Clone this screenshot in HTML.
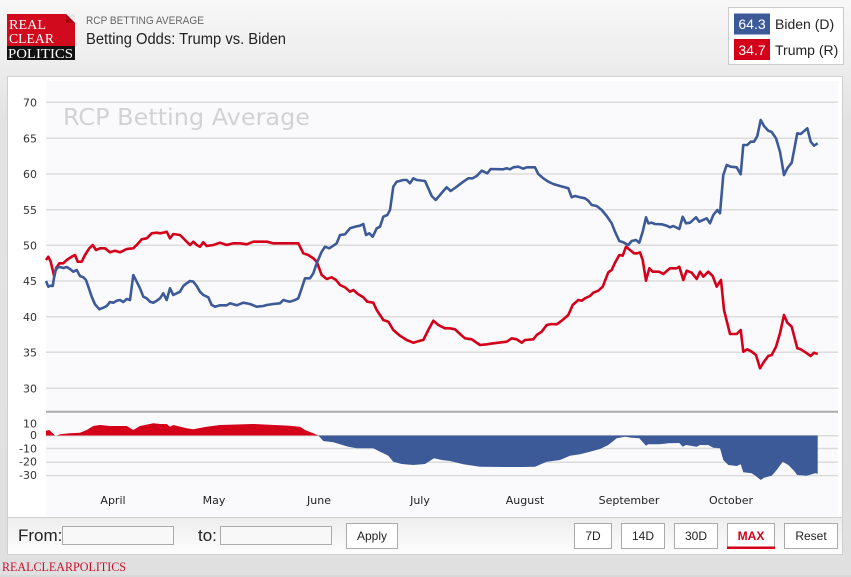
<!DOCTYPE html>
<html><head><meta charset="utf-8"><style>
html,body{margin:0;padding:0}
body{width:851px;height:577px;overflow:hidden;position:relative;background:linear-gradient(#f7f7f7 0px,#ececec 70px,#e2e2e2 120px,#e0e0e0 577px);font-family:"Liberation Sans",Arial,sans-serif}
svg{position:absolute;left:0;top:0}
</style></head><body>
<svg width="851" height="577" viewBox="0 0 851 577" xmlns="http://www.w3.org/2000/svg">
<defs>
<linearGradient id="bar" x1="0" y1="0" x2="0" y2="1"><stop offset="0" stop-color="#ededed"/><stop offset="1" stop-color="#fdfdfd"/></linearGradient>
</defs>
<!-- logo -->
<rect x="7" y="14" width="68" height="32" fill="#d20a1e"/>
<rect x="7" y="46" width="68" height="14" fill="#111"/>
<polygon points="66,14 75,14 75,23" fill="#e9e9e9"/>
<polygon points="66,14 75,23 66,23" fill="#a8000f"/>
<text x="9" y="29" font-family="'Liberation Serif',serif" font-size="14" fill="#fff" textLength="37" lengthAdjust="spacingAndGlyphs">REAL</text>
<text x="9" y="43" font-family="'Liberation Serif',serif" font-size="14" fill="#fff" textLength="45" lengthAdjust="spacingAndGlyphs">CLEAR</text>
<text x="8" y="58" font-family="'Liberation Serif',serif" font-size="14" fill="#fff" textLength="65" lengthAdjust="spacingAndGlyphs">POLITICS</text>
<!-- header text -->
<text x="86" y="24" font-size="11" fill="#666" textLength="118" lengthAdjust="spacingAndGlyphs">RCP BETTING AVERAGE</text>
<text x="86" y="44" font-size="15.5" fill="#222" textLength="200" lengthAdjust="spacingAndGlyphs">Betting Odds: Trump vs. Biden</text>
<!-- legend -->
<rect x="728.5" y="7.5" width="115" height="57" fill="#fff" stroke="#ccc"/>
<rect x="734" y="13.5" width="36" height="21" fill="#3d5a98"/>
<rect x="734" y="39" width="36" height="21" fill="#d4001a"/>
<text x="752" y="29" font-size="14" fill="#fff" text-anchor="middle">64.3</text>
<text x="752" y="55" font-size="14" fill="#fff" text-anchor="middle">34.7</text>
<text x="775" y="29" font-size="14" fill="#222">Biden (D)</text>
<text x="775" y="55" font-size="14" fill="#222">Trump (R)</text>
<!-- panel -->
<rect x="7.5" y="76.5" width="835" height="478" fill="#fff" stroke="#cfcfcf"/>
<rect x="46" y="81" width="792" height="436" fill="#fafafd"/>
<!-- controls bar -->
<rect x="8" y="517" width="834" height="37" fill="url(#bar)"/>
<line x1="8" y1="517.5" x2="842" y2="517.5" stroke="#d0d0d0"/>
<!-- gridlines main -->
<g stroke="#dcdcdc" stroke-width="1.5">
<line x1="46" y1="102.3" x2="838" y2="102.3"/>
<line x1="46" y1="138.3" x2="838" y2="138.3"/>
<line x1="46" y1="174" x2="838" y2="174"/>
<line x1="46" y1="209.7" x2="838" y2="209.7"/>
<line x1="46" y1="245.3" x2="838" y2="245.3"/>
<line x1="46" y1="281" x2="838" y2="281"/>
<line x1="46" y1="316.7" x2="838" y2="316.7"/>
<line x1="46" y1="352.3" x2="838" y2="352.3"/>
<line x1="46" y1="388.3" x2="838" y2="388.3"/>
<line x1="46" y1="435.7" x2="838" y2="435.7"/>
<line x1="46" y1="448.5" x2="838" y2="448.5"/>
<line x1="46" y1="462.2" x2="838" y2="462.2"/>
<line x1="46" y1="475.6" x2="838" y2="475.6"/>
</g>
<line x1="46" y1="411.7" x2="838" y2="411.7" stroke="#ababab" stroke-width="2"/>
<!-- watermark -->
<text x="63" y="125" font-family="'DejaVu Sans',Verdana,sans-serif" font-size="23" fill="#d2d2d2" textLength="247" lengthAdjust="spacingAndGlyphs">RCP Betting Average</text>
<!-- y labels -->
<g font-family="'DejaVu Sans',Verdana,sans-serif" font-size="11" fill="#333" text-anchor="end">
<text x="37" y="106.5">70</text>
<text x="37" y="142.5">65</text>
<text x="37" y="178">60</text>
<text x="37" y="214">55</text>
<text x="37" y="249.5">50</text>
<text x="37" y="285">45</text>
<text x="37" y="321">40</text>
<text x="37" y="356.5">35</text>
<text x="37" y="392.5">30</text>
<text x="37" y="427.5">10</text>
<text x="37" y="439">0</text>
<text x="37" y="452.5">-10</text>
<text x="37" y="465.5">-20</text>
<text x="37" y="479">-30</text>
</g>
<!-- month labels -->
<g font-family="'DejaVu Sans',Verdana,sans-serif" font-size="11" fill="#222" text-anchor="middle">
<text x="113" y="504">April</text>
<text x="214" y="504">May</text>
<text x="319" y="504">June</text>
<text x="420" y="504">July</text>
<text x="525" y="504">August</text>
<text x="629" y="504">September</text>
<text x="731" y="504">October</text>
</g>
<!-- spread areas -->
<path fill="#d4001a" d="M46,435.5 L46,430.7 49.3,430 52.7,433.3 55,435.5 57,435.5 60,434.3 70,433.3 80,432.7 86.7,430 93.3,426 100,425 110,426 126.7,426 133.3,430 140,426 153.3,423.3 160,424 166.7,424 170,426.7 173.3,425 186.7,428.3 193.3,429.3 206.7,426.7 220,425 253.3,424 290,425.7 300,426.7 305,430 313.3,433.3 318.3,435.5 Z"/>
<path fill="#3d5a98" d="M318.3,435.5 L323.3,441 333.3,442.3 340,444.3 348.3,446.7 356.7,448.3 373.3,448.3 380,451.7 388.3,455.7 393.3,461.7 401.7,464 413.3,465 425,464 434,458.3 441.7,460 450,461 463.3,464.3 480,466.7 503.3,467 523.3,467 535,466.7 546.7,461.7 560,460 570,455.7 580,454.3 590,451.7 600,449 608.3,445 616.7,438.3 625,436.7 631.7,437.7 639.3,438.3 646,445.7 648.3,444.3 660,444.3 668.3,443.3 679.3,443 682.7,446.7 686,445 696.7,446.7 700,445 708.3,445 713.3,447.7 720,448.3 723.3,460 728.3,465 736.7,466 740.7,464.3 743.3,472.3 751.7,473.3 756.7,476.7 760.7,480 764,477.7 771.7,475.7 776.7,470 782.7,461.7 788.3,465 793.3,470 797.3,475 806.7,475.7 811.7,474.3 815,473.3 817.7,473.7 817.7,435.5 Z"/>
<!-- lines -->
<polyline fill="none" stroke="#d4001a" stroke-width="2.6" stroke-linejoin="round" points="46,260 48.3,256.7 50.7,261.7 52.7,270 54.3,276.7 56,268.3 59.3,263.3 63.3,263.3 66.7,260 71.7,256.7 75,255 77.7,261.7 81.7,261.7 85,255 89.3,248.3 92.7,245 96,250 100,248.3 105,248.3 110,252.3 115,250.7 120,252.3 126.7,249 133.3,248.3 138.3,243.3 141.7,239.3 146.7,238.3 151.7,233.3 156.7,232.7 160,233.3 163.3,232.7 166.7,231.7 170,238.3 173.3,234 180,235 185,240 190,245 193.3,241.7 196.7,245 200,246.7 203.3,242.3 206.7,246 213.3,245 220,242.7 226.7,245 233.3,243.3 240,243.3 246.7,244.3 253.3,241.7 266.7,241.7 273.3,243.3 280,243.3 290,243.3 298.3,243.3 303.3,253.3 308.3,255 313.3,258.3 316.7,261.7 321.7,275 326.7,279 331.7,277.3 336,280 340,285 345,287.3 350,291.7 353.3,290 358.3,294.3 363.3,297.3 367.3,301.7 373.3,302.7 376.7,310 383.3,320 388.3,321.7 393.3,330 400,335.7 406.7,340 413.3,342.7 420,340.7 423.3,340 428.3,330 433.3,320.7 438.3,325 445,328.3 450,328.3 455,329.3 460,334 465,338.3 471.7,339.3 480,345 486.7,344.3 493.3,343.3 506.7,341.7 511.7,338.3 516.7,339.3 521.7,342.7 525,340 533.3,339.3 536.7,335 541.7,331.7 546.7,325 551.7,324 556.7,324.3 561.7,320.7 568.3,315 572.7,305 578.3,300 581.7,300.7 585,298.3 590,296 593.3,292.7 598.3,290.7 602.7,286.7 608.3,272.3 611.7,270 615,262.7 619.3,255 622.7,255.7 626,246.7 630,250 634,253.3 637.3,253.3 640,252.3 642.7,260 646,280.7 649.3,268.3 652.7,271.7 659.3,271.7 663.3,274 670,268.3 676.7,268.3 679.3,266.7 683.3,280 686.7,270.7 691.7,272.7 696.7,279 700,271.7 703.3,276.7 708.3,271.7 712.7,276 716.7,286.7 721,280 724,310 730,334 736.7,334 740.7,330 743.3,351.7 747.3,349.3 751.7,351.7 756,355 760,368.3 764,361.7 768.3,356 771.7,355 776,346.7 780,333.3 784,315 787.3,322.7 791.7,326.7 797.3,348.3 800.7,349.3 806,352.7 810.7,356 814,352.7 817.7,354"/>
<polyline fill="none" stroke="#3d5a98" stroke-width="2.6" stroke-linejoin="round" points="46,281 48.3,286.7 50.7,285.7 52.7,286 55,271.7 57.3,267.7 60,267 63.3,268 66.7,267 70,269 73.3,271.7 76.7,270 80,276 83.3,277.3 86,280 88.3,286.7 91.7,296.7 95,304.3 99.3,309.3 103.3,307.7 106.7,306 110,302 113.3,302.7 116.7,300.7 120,300 123.3,302 126.7,299 130,300 133.3,275 136.7,281.7 140,288.3 143.3,296.7 146.7,298.3 150,301.7 153.3,302.7 156.7,300.7 160,298.3 163.3,293.3 166.7,300 170,288.3 173.3,295 176.7,293.3 180,291.7 183.3,286 186.7,283.3 190,281 193.3,281.7 196.7,286 200,291.7 203.3,295 208.3,297.3 211.7,305 215,306.7 220,305.3 226.7,305.3 230,303.3 236.7,305.3 243.3,302.7 250,304 256.7,306.7 263.3,306 266.7,305 273.3,304 280,303.3 283.3,300 286.7,301 290,301.7 295,300 298.3,298.3 301.7,288.3 305,278.3 310,278.3 313.3,273.3 316.7,263.3 321.7,251.7 325,246.7 329.3,248.3 333.3,245.7 336.7,243.3 340,235 345,234.3 350,228.3 355,226.7 360,225.7 363.3,224 366,235 369.3,233.3 372.7,236.7 376.7,228.3 380,226.7 383.3,216.7 387.3,215 390,210 393.3,186.7 396.7,181.7 403.3,180 406.7,180 410,183.3 413.3,178.3 416.7,180 425,181 428.3,188.3 431.7,196 435.7,200 440,195 443.3,191 446.7,187.3 450.7,191 456.7,186.7 463.3,181.7 468.3,178.3 472.7,178.3 476.7,176 481.7,170.7 487.3,173.3 490.7,169 503.3,169.3 506.7,168.3 510,169.3 513.3,167.3 518.3,166.7 523.3,168.7 526.7,167.3 535,167.3 538.3,174 543.3,178.3 548.3,181.7 553.3,184 560,186 568.3,188.3 571.7,197.3 575,196 580,197.3 585,198.3 588.3,200.7 591.7,205 596.7,206 601.7,210 606.7,216 611.7,223.3 615,231.7 619.3,241 623.3,242.3 628.3,245 631.7,241 636,240 639.3,242.7 642.7,231.7 646,217.3 648.3,223.3 651.7,222.7 655,224 661.7,224.3 666.7,225.7 670,227.3 673.3,226 679.3,229 682.7,216.7 686,223.3 690,222.7 696,217.3 699.3,221.7 706.7,218.3 710,223.3 713.3,215 717.3,210 720,213.3 723.3,175 726.7,165 730.7,166.7 736.7,167.3 740.7,174.3 743.3,145 747.3,145 750.7,141.7 754,141.7 757.3,136 760.7,120 764,126 768.3,130.7 771.7,132 776,138.3 780,151.7 784,175 787.3,168.3 791.7,162.7 797.3,133.3 800.7,134 807.3,128.3 810.7,141.7 814,145.7 817.7,143.3"/>
<!-- controls -->
<text x="18" y="541" font-size="17" fill="#222">From:</text>
<rect x="62.5" y="526.5" width="111" height="18" fill="#f8f8f8" stroke="#aaa"/>
<text x="198" y="541" font-size="17" fill="#222">to:</text>
<rect x="220.5" y="526.5" width="111" height="18" fill="#f8f8f8" stroke="#aaa"/>
<rect x="346.5" y="523.5" width="51" height="25" fill="#fff" stroke="#aaa"/>
<text x="372" y="540" font-size="12" fill="#222" text-anchor="middle">Apply</text>
<g font-size="12" fill="#222" text-anchor="middle">
<rect x="574.5" y="523.5" width="37" height="25" fill="#fff" stroke="#aaa"/>
<text x="593" y="540">7D</text>
<rect x="621.5" y="523.5" width="43" height="25" fill="#fff" stroke="#aaa"/>
<text x="643" y="540">14D</text>
<rect x="674.5" y="523.5" width="43" height="25" fill="#fff" stroke="#aaa"/>
<text x="696" y="540">30D</text>
<rect x="727.5" y="523.5" width="47" height="25" fill="#fff" stroke="#aaa"/>
<rect x="727" y="546.5" width="48" height="2.5" fill="#d4001a"/>
<text x="751" y="540" fill="#d4001a" font-weight="bold">MAX</text>
<rect x="784.5" y="523.5" width="53" height="25" fill="#fff" stroke="#aaa"/>
<text x="811" y="540">Reset</text>
</g>
<!-- footer -->
<text x="2" y="571" font-family="'Liberation Serif',serif" font-size="12.5" fill="#c8102e" textLength="124" lengthAdjust="spacingAndGlyphs">REALCLEARPOLITICS</text>
<line x1="0" y1="576" x2="851" y2="576" stroke="#cfcfcf"/>
</svg>
</body></html>
